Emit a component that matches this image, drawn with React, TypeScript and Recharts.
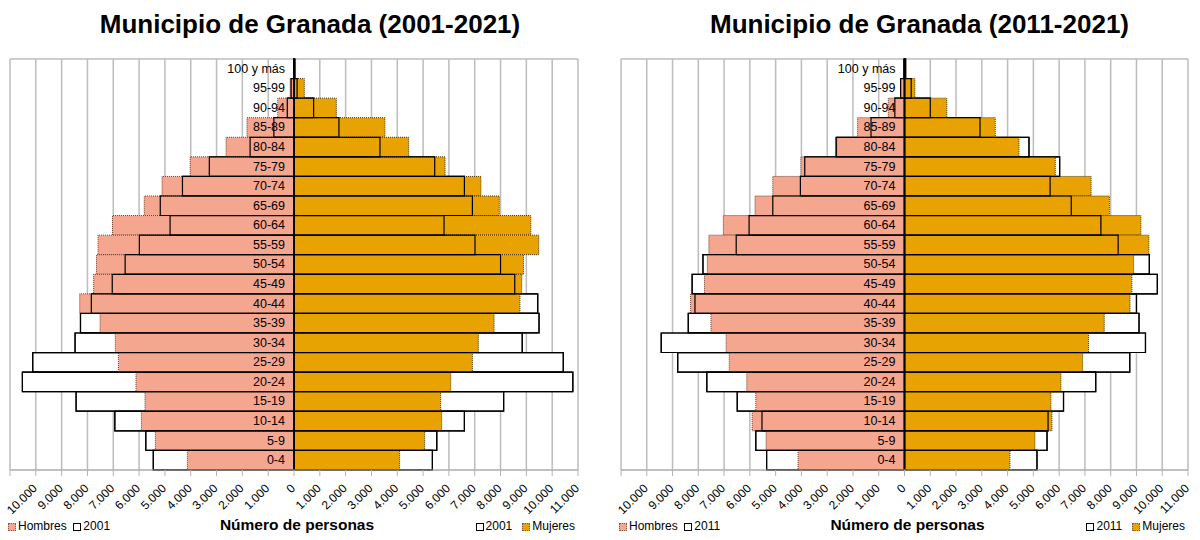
import { BarChart, Bar, XAxis, YAxis, CartesianGrid, ReferenceLine, LabelList } from 'recharts';

const FONT = '"Liberation Sans", Arial, sans-serif';
const SALMON = '#F5A68F';
const ORANGE = '#E8A202';

const AGES = [
  '100 y más', '95-99', '90-94', '85-89', '80-84', '75-79', '70-74', '65-69', '60-64', '55-59', '50-54',
  '45-49', '40-44', '35-39', '30-34', '25-29', '20-24', '15-19', '10-14', '5-9', '0-4',
];

// 2021 (filled bars), top row = 100 y más
const HOMBRES_2021 = [20, 150, 630, 1820, 2630, 4020, 5110, 5800, 7030, 7590, 7650, 7760, 8300, 7510, 6920, 6800, 6120, 5770, 5910, 5370, 4130];
const MUJERES_2021 = [60, 400, 1640, 3520, 4440, 5850, 7240, 7950, 9170, 9480, 8890, 8820, 8750, 7750, 7140, 6910, 6070, 5680, 5720, 5060, 4090];

// comparison years (outlined bars)
const HOMBRES_2001 = [10, 110, 260, 780, 1700, 3280, 4320, 5180, 4800, 5990, 6540, 7040, 7850, 8270, 8480, 10120, 10520, 8440, 6940, 5740, 5450];
const MUJERES_2001 = [30, 120, 760, 1740, 3330, 5450, 6600, 6910, 5810, 7010, 8000, 8550, 9440, 9490, 8840, 10430, 10800, 8120, 6600, 5530, 5360];
const HOMBRES_2011 = [15, 150, 375, 1300, 2650, 3870, 4040, 5110, 6030, 6530, 7820, 8240, 8130, 8390, 9440, 8800, 7670, 6490, 5530, 5770, 5350];
const MUJERES_2011 = [40, 260, 1000, 2930, 4830, 6020, 5650, 6470, 7620, 8290, 9500, 9810, 9000, 9100, 9350, 8740, 7420, 6170, 5570, 5530, 5140];

const TICKS = [
  -11000, -10000, -9000, -8000, -7000, -6000, -5000, -4000, -3000, -2000, -1000, 0,
  1000, 2000, 3000, 4000, 5000, 6000, 7000, 8000, 9000, 10000, 11000,
];

const fmt = (v: number) => String(Math.abs(v)).replace(/\B(?=(\d{3})+(?!\d))/g, '.');

const BAR = 19.5;

function XTick(props: any) {
  const { x, y, payload } = props;
  if (payload.value === -11000) return <g />;
  return (
    <text
      transform={`translate(${x + 2},${y + 11}) rotate(-45)`}
      textAnchor="end"
      fontSize={12}
      fontFamily={FONT}
      fill="#000"
    >
      {fmt(payload.value)}
    </text>
  );
}

function AgeLabel(props: any) {
  const { x, y, height, value } = props;
  return (
    <text x={x - 9} y={y + height / 2 + 4} textAnchor="end" fontSize={12.5} fontFamily={FONT} fill="#000">
      {value}
    </text>
  );
}

function Swatch({ fill, dotted }: { fill: string; dotted?: boolean }) {
  return (
    <span
      style={{
        display: 'inline-block',
        width: 8,
        height: 8,
        background: fill,
        border: dotted ? '1px dotted #8a5a40' : '1px solid #000',
        boxSizing: 'border-box',
        marginRight: 2,
        verticalAlign: '-0.5px',
      }}
    />
  );
}

function Panel({
  left,
  title,
  oldYear,
  menOld,
  womenOld,
  margin,
  titleCenter,
}: {
  left: number;
  title: string;
  oldYear: string;
  menOld: number[];
  womenOld: number[];
  margin: { top: number; right: number; bottom: number; left: number };
  titleCenter: number;
}) {
  const rows = AGES.map((age, i) => ({
    age,
    hOld: -menOld[i],
    mOld: womenOld[i],
    hNew: -HOMBRES_2021[i],
    mNew: MUJERES_2021[i],
    hOldLine: -menOld[i],
    mOldLine: womenOld[i],
  }));
  const plotLeft = margin.left;
  const plotRight = 600 - margin.right;
  const center = (plotLeft + plotRight) / 2;

  return (
    <div style={{ position: 'absolute', left, top: 0, width: 600, height: 540, fontFamily: FONT }}>
      <div
        style={{
          position: 'absolute',
          left: titleCenter - 300,
          width: 600,
          top: 11,
          textAlign: 'center',
          fontSize: 26,
          lineHeight: '26px',
          fontWeight: 'bold',
          whiteSpace: 'nowrap',
        }}
      >
        {title}
      </div>
      <BarChart
        width={600}
        height={540}
        data={rows}
        layout="vertical"
        margin={margin}
        barSize={BAR}
        barGap={-BAR}
      >
        <CartesianGrid
          stroke="#bcbcbc"
          strokeWidth={1.5}
          horizontalCoordinatesGenerator={({ offset }: any) => [offset.top, offset.top + offset.height]}
        />
        <XAxis
          type="number"
          domain={[-11000, 11000]}
          ticks={TICKS}
          interval={0}
          tick={<XTick />}
          tickSize={6}
          tickMargin={2}
          height={60}
          stroke="#b3b3b3"
          allowDataOverflow
        />
        <YAxis type="category" dataKey="age" hide />
        <Bar dataKey="hOld" fill="#fff" stroke="#000" strokeWidth={1.2} isAnimationActive={false} />
        <Bar dataKey="mOld" fill="#fff" stroke="#000" strokeWidth={1.2} isAnimationActive={false} />
        <Bar dataKey="hNew" fill={SALMON} stroke="#6b4030" strokeWidth={1} strokeDasharray="1 1" isAnimationActive={false} />
        <Bar dataKey="mNew" fill={ORANGE} stroke="#4a3300" strokeWidth={1} strokeDasharray="1 1" isAnimationActive={false} />
        <Bar dataKey="hOldLine" fill="none" stroke="#000" strokeWidth={1.2} isAnimationActive={false} />
        <Bar dataKey="mOldLine" fill="none" stroke="#000" strokeWidth={1.2} isAnimationActive={false}>
          <LabelList dataKey="age" content={<AgeLabel />} />
        </Bar>
        <ReferenceLine x={0} stroke="#000" strokeWidth={2} />
      </BarChart>
      <div
        style={{
          position: 'absolute',
          left: center - 100 + 3,
          width: 200,
          top: 517,
          textAlign: 'center',
          fontSize: 15.5,
          lineHeight: '16px',
          fontWeight: 'bold',
        }}
      >
        Número de personas
      </div>
      <div style={{ position: 'absolute', left: plotLeft - 2, top: 520, fontSize: 12, lineHeight: '12px', whiteSpace: 'nowrap' }}>
        <Swatch fill={SALMON} dotted />Hombres&nbsp; <Swatch fill="#fff" />{oldYear}
      </div>
      <div
        style={{
          position: 'absolute',
          right: 600 - plotRight + 3,
          top: 520,
          fontSize: 12,
          lineHeight: '12px',
          whiteSpace: 'nowrap',
        }}
      >
        <Swatch fill="#fff" />{oldYear}&nbsp;&nbsp; <Swatch fill={ORANGE} dotted />Mujeres
      </div>
    </div>
  );
}

export default function App() {
  return (
    <div style={{ position: 'absolute', left: 0, top: 0, width: 1200, height: 540, background: '#fff', overflow: 'hidden' }}>
      <Panel
        left={0}
        title="Municipio de Granada (2001-2021)"
        oldYear="2001"
        menOld={HOMBRES_2001}
        womenOld={MUJERES_2001}
        margin={{ top: 59, right: 22, bottom: 10, left: 10 }}
        titleCenter={310}
      />
      <Panel
        left={600}
        title="Municipio de Granada (2011-2021)"
        oldYear="2011"
        menOld={HOMBRES_2011}
        womenOld={MUJERES_2011}
        margin={{ top: 59, right: 12, bottom: 10, left: 21 }}
        titleCenter={319.5}
      />
    </div>
  );
}
